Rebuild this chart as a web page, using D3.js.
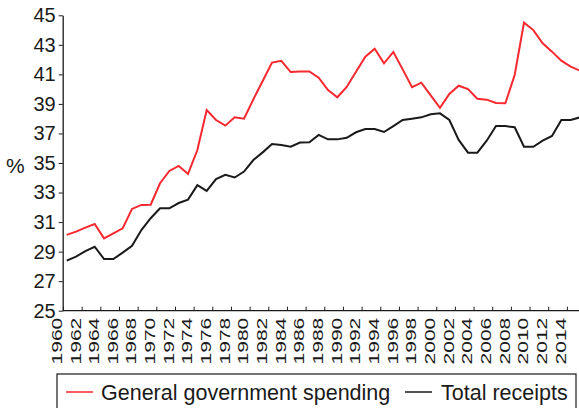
<!DOCTYPE html>
<html>
<head>
<meta charset="utf-8">
<script src="https://cdn.jsdelivr.net/npm/d3@7"></script>
<style>
  html, body { margin: 0; padding: 0; background: #fff; }
  svg { display: block; font-family: "Liberation Sans", Arial, Helvetica, sans-serif; }
</style>
</head>
<body>
<svg id="chart" width="579" height="408"></svg>
<script>
const years = [1960,1961,1962,1963,1964,1965,1966,1967,1968,1969,
  1970,1971,1972,1973,1974,1975,1976,1977,1978,1979,
  1980,1981,1982,1983,1984,1985,1986,1987,1988,1989,
  1990,1991,1992,1993,1994,1995,1996,1997,1998,1999,
  2000,2001,2002,2003,2004,2005,2006,2007,2008,2009,
  2010,2011,2012,2013,2014,2015];

const spending = [30.13,30.35,30.62,30.87,29.90,30.24,30.58,31.89,32.16,32.18,
  33.63,34.46,34.80,34.26,35.88,38.59,37.91,37.53,38.09,38.00,
  39.31,40.55,41.80,41.92,41.16,41.19,41.20,40.78,39.94,39.45,
  40.15,41.18,42.20,42.74,41.75,42.52,41.34,40.13,40.44,39.58,
  38.74,39.67,40.23,40.01,39.35,39.29,39.06,39.04,40.96,44.50,
  44.00,43.10,42.54,41.93,41.52,41.25];

const receipts = [28.39,28.66,29.04,29.33,28.50,28.50,28.93,29.40,30.46,31.26,
  31.93,31.93,32.29,32.52,33.50,33.11,33.91,34.20,34.02,34.42,
  35.20,35.72,36.28,36.22,36.10,36.38,36.40,36.90,36.60,36.60,
  36.71,37.08,37.30,37.30,37.10,37.50,37.91,38.00,38.09,38.30,
  38.36,37.91,36.56,35.70,35.70,36.51,37.50,37.50,37.42,36.10,
  36.10,36.51,36.83,37.91,37.91,38.09];

const yTicks = [25,27,29,31,33,35,37,39,41,43,45];
const xTickYears = [1960,1962,1964,1966,1968,1970,1972,1974,1976,1978,
  1980,1982,1984,1986,1988,1990,1992,1994,1996,1998,
  2000,2002,2004,2006,2008,2010,2012,2014];

const seriesNames = ["General government spending", "Total receipts"];
const seriesColors = ["#f7282f", "#1a1a1a"];

const svg = d3.select("#chart");
const axisLeftX = 62.7, axisBottomY = 310.7, plotTop = 15.3, plotRight = 579;

const x = d3.scaleLinear().domain([1960, 2015]).range([66.7, 580]);
const xTick = d3.scaleLinear().domain([1960, 2015]).range([63, 576.2]);
const y = d3.scaleLinear().domain([25, 45]).range([axisBottomY, plotTop]);

// lines
svg.append("clipPath").attr("id", "clip")
  .append("rect").attr("x", axisLeftX).attr("y", 0).attr("width", plotRight - axisLeftX).attr("height", axisBottomY);

const line = d3.line().x((d, i) => x(years[i])).y(d => y(d));
const g = svg.append("g").attr("clip-path", "url(#clip)");
[spending, receipts].forEach((s, k) => {
  g.append("path").datum(s)
    .attr("d", line)
    .attr("fill", "none")
    .attr("stroke", seriesColors[k])
    .attr("stroke-width", 2)
    .attr("stroke-linejoin", "miter");
});

// y axis
const yAxis = svg.append("g").attr("transform", `translate(${axisLeftX},0)`)
  .call(d3.axisLeft(y).tickValues(yTicks).tickSize(4).tickSizeOuter(0).tickPadding(3));
yAxis.select(".domain").attr("stroke", "#1a1a1a").attr("stroke-width", 1.3);
yAxis.selectAll(".tick line").attr("stroke", "#1a1a1a");
yAxis.selectAll("text").attr("font-size", 20).attr("fill", "#1a1a1a")
  .attr("font-family", "Liberation Sans, Arial, sans-serif");

svg.append("text").attr("x", 6).attr("y", 166).attr("dy", "0.35em")
  .attr("font-size", 21).attr("fill", "#1a1a1a").text("%");

// x axis
const xAxis = svg.append("g").attr("transform", `translate(0,${axisBottomY})`)
  .call(d3.axisBottom(xTick).tickValues(xTickYears).tickSize(-4).tickSizeOuter(0).tickFormat(d3.format("d")));
xAxis.select(".domain").attr("stroke", "#1a1a1a").attr("stroke-width", 1.3)
  .attr("d", `M${axisLeftX},0H${plotRight}`);
xAxis.selectAll(".tick line").attr("stroke", "#1a1a1a");
xAxis.selectAll("text")
  .attr("font-size", 15).attr("fill", "#1a1a1a")
  .attr("text-anchor", "end")
  .attr("y", 0).attr("x", 0).attr("dy", null)
  .attr("transform", "translate(-7,7) rotate(-90) scale(1.4,1)")
  .attr("dominant-baseline", "central");

// legend
const lg = svg.append("g");
lg.append("rect").attr("x", 57).attr("y", 374).attr("width", 519).attr("height", 40)
  .attr("fill", "none").attr("stroke", "#1a1a1a").attr("stroke-width", 1.2);
const legendItems = [{sx: 66, tx: 101}, {sx: 405, tx: 441}];
seriesNames.forEach((n, k) => {
  lg.append("line").attr("x1", legendItems[k].sx).attr("x2", legendItems[k].sx + 27)
    .attr("y1", 392).attr("y2", 392)
    .attr("stroke", seriesColors[k]).attr("stroke-width", 1.5);
  lg.append("text").attr("x", legendItems[k].tx).attr("y", 392).attr("dy", "0.35em")
    .attr("font-size", 21.5).attr("fill", "#1a1a1a").text(n);
});
</script>
</body>
</html>
